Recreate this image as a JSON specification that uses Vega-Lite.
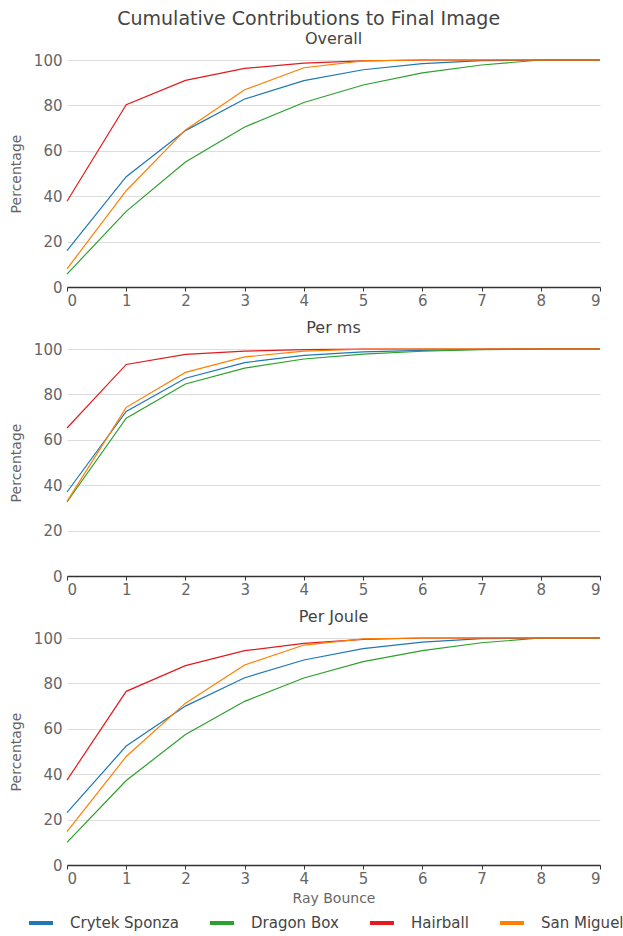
{
  "$schema": "https://vega.github.io/schema/vega-lite/v6.json",
  "padding": {"left": 9, "right": 17, "top": 10, "bottom": 0},
  "background": "white",
  "title": {"text": "Cumulative Contributions to Final Image", "fontSize": 19, "font": "DejaVu Sans", "fontWeight": "normal", "color": "#444", "anchor": "middle", "offset": 2, "dx": -8},
  "config": {
    "font": "DejaVu Sans",
    "view": {"stroke": null},
    "axis": {"labelFont": "DejaVu Sans", "titleFont": "DejaVu Sans", "labelColor": "#666", "titleColor": "#666", "labelFontSize": 15, "titleFontSize": 14, "titleFontWeight": "normal", "gridColor": "#ddd", "gridWidth": 1},
    "title": {"font": "DejaVu Sans", "fontSize": 16, "fontWeight": "normal", "color": "#444", "offset": 6},
    "concat": {"spacing": 12}
  },
  "data": {"values": [
    {"panel": "Overall", "scene": "Crytek Sponza", "bounce": 0, "pct": 16},
    {"panel": "Overall", "scene": "Crytek Sponza", "bounce": 1, "pct": 48.6},
    {"panel": "Overall", "scene": "Crytek Sponza", "bounce": 2, "pct": 68.9},
    {"panel": "Overall", "scene": "Crytek Sponza", "bounce": 3, "pct": 82.8},
    {"panel": "Overall", "scene": "Crytek Sponza", "bounce": 4, "pct": 90.9},
    {"panel": "Overall", "scene": "Crytek Sponza", "bounce": 5, "pct": 95.7},
    {"panel": "Overall", "scene": "Crytek Sponza", "bounce": 6, "pct": 98.4},
    {"panel": "Overall", "scene": "Crytek Sponza", "bounce": 7, "pct": 99.7},
    {"panel": "Overall", "scene": "Crytek Sponza", "bounce": 8, "pct": 100},
    {"panel": "Overall", "scene": "Crytek Sponza", "bounce": 9, "pct": 100},
    {"panel": "Overall", "scene": "Dragon Box", "bounce": 0, "pct": 5.7},
    {"panel": "Overall", "scene": "Dragon Box", "bounce": 1, "pct": 33.3},
    {"panel": "Overall", "scene": "Dragon Box", "bounce": 2, "pct": 55.1},
    {"panel": "Overall", "scene": "Dragon Box", "bounce": 3, "pct": 70.5},
    {"panel": "Overall", "scene": "Dragon Box", "bounce": 4, "pct": 81.3},
    {"panel": "Overall", "scene": "Dragon Box", "bounce": 5, "pct": 89},
    {"panel": "Overall", "scene": "Dragon Box", "bounce": 6, "pct": 94.3},
    {"panel": "Overall", "scene": "Dragon Box", "bounce": 7, "pct": 97.8},
    {"panel": "Overall", "scene": "Dragon Box", "bounce": 8, "pct": 100},
    {"panel": "Overall", "scene": "Dragon Box", "bounce": 9, "pct": 100},
    {"panel": "Overall", "scene": "Hairball", "bounce": 0, "pct": 37.8},
    {"panel": "Overall", "scene": "Hairball", "bounce": 1, "pct": 80.3},
    {"panel": "Overall", "scene": "Hairball", "bounce": 2, "pct": 91},
    {"panel": "Overall", "scene": "Hairball", "bounce": 3, "pct": 96.3},
    {"panel": "Overall", "scene": "Hairball", "bounce": 4, "pct": 98.6},
    {"panel": "Overall", "scene": "Hairball", "bounce": 5, "pct": 99.6},
    {"panel": "Overall", "scene": "Hairball", "bounce": 6, "pct": 100},
    {"panel": "Overall", "scene": "Hairball", "bounce": 7, "pct": 100},
    {"panel": "Overall", "scene": "Hairball", "bounce": 8, "pct": 100},
    {"panel": "Overall", "scene": "Hairball", "bounce": 9, "pct": 100},
    {"panel": "Overall", "scene": "San Miguel", "bounce": 0, "pct": 8},
    {"panel": "Overall", "scene": "San Miguel", "bounce": 1, "pct": 42.4},
    {"panel": "Overall", "scene": "San Miguel", "bounce": 2, "pct": 69.2},
    {"panel": "Overall", "scene": "San Miguel", "bounce": 3, "pct": 86.9},
    {"panel": "Overall", "scene": "San Miguel", "bounce": 4, "pct": 96.6},
    {"panel": "Overall", "scene": "San Miguel", "bounce": 5, "pct": 99.6},
    {"panel": "Overall", "scene": "San Miguel", "bounce": 6, "pct": 100},
    {"panel": "Overall", "scene": "San Miguel", "bounce": 7, "pct": 100},
    {"panel": "Overall", "scene": "San Miguel", "bounce": 8, "pct": 100},
    {"panel": "Overall", "scene": "San Miguel", "bounce": 9, "pct": 100},
    {"panel": "Per ms", "scene": "Crytek Sponza", "bounce": 0, "pct": 37},
    {"panel": "Per ms", "scene": "Crytek Sponza", "bounce": 1, "pct": 72.5},
    {"panel": "Per ms", "scene": "Crytek Sponza", "bounce": 2, "pct": 87.1},
    {"panel": "Per ms", "scene": "Crytek Sponza", "bounce": 3, "pct": 94},
    {"panel": "Per ms", "scene": "Crytek Sponza", "bounce": 4, "pct": 97.2},
    {"panel": "Per ms", "scene": "Crytek Sponza", "bounce": 5, "pct": 98.7},
    {"panel": "Per ms", "scene": "Crytek Sponza", "bounce": 6, "pct": 99.4},
    {"panel": "Per ms", "scene": "Crytek Sponza", "bounce": 7, "pct": 99.9},
    {"panel": "Per ms", "scene": "Crytek Sponza", "bounce": 8, "pct": 100},
    {"panel": "Per ms", "scene": "Crytek Sponza", "bounce": 9, "pct": 100},
    {"panel": "Per ms", "scene": "Dragon Box", "bounce": 0, "pct": 32.6},
    {"panel": "Per ms", "scene": "Dragon Box", "bounce": 1, "pct": 69.5},
    {"panel": "Per ms", "scene": "Dragon Box", "bounce": 2, "pct": 84.6},
    {"panel": "Per ms", "scene": "Dragon Box", "bounce": 3, "pct": 91.6},
    {"panel": "Per ms", "scene": "Dragon Box", "bounce": 4, "pct": 95.6},
    {"panel": "Per ms", "scene": "Dragon Box", "bounce": 5, "pct": 97.7},
    {"panel": "Per ms", "scene": "Dragon Box", "bounce": 6, "pct": 99},
    {"panel": "Per ms", "scene": "Dragon Box", "bounce": 7, "pct": 99.7},
    {"panel": "Per ms", "scene": "Dragon Box", "bounce": 8, "pct": 100},
    {"panel": "Per ms", "scene": "Dragon Box", "bounce": 9, "pct": 100},
    {"panel": "Per ms", "scene": "Hairball", "bounce": 0, "pct": 65.2},
    {"panel": "Per ms", "scene": "Hairball", "bounce": 1, "pct": 93.2},
    {"panel": "Per ms", "scene": "Hairball", "bounce": 2, "pct": 97.6},
    {"panel": "Per ms", "scene": "Hairball", "bounce": 3, "pct": 99.1},
    {"panel": "Per ms", "scene": "Hairball", "bounce": 4, "pct": 99.7},
    {"panel": "Per ms", "scene": "Hairball", "bounce": 5, "pct": 100},
    {"panel": "Per ms", "scene": "Hairball", "bounce": 6, "pct": 100},
    {"panel": "Per ms", "scene": "Hairball", "bounce": 7, "pct": 100},
    {"panel": "Per ms", "scene": "Hairball", "bounce": 8, "pct": 100},
    {"panel": "Per ms", "scene": "Hairball", "bounce": 9, "pct": 100},
    {"panel": "Per ms", "scene": "San Miguel", "bounce": 0, "pct": 32.9},
    {"panel": "Per ms", "scene": "San Miguel", "bounce": 1, "pct": 74.3},
    {"panel": "Per ms", "scene": "San Miguel", "bounce": 2, "pct": 89.7},
    {"panel": "Per ms", "scene": "San Miguel", "bounce": 3, "pct": 96.5},
    {"panel": "Per ms", "scene": "San Miguel", "bounce": 4, "pct": 99.1},
    {"panel": "Per ms", "scene": "San Miguel", "bounce": 5, "pct": 99.9},
    {"panel": "Per ms", "scene": "San Miguel", "bounce": 6, "pct": 100},
    {"panel": "Per ms", "scene": "San Miguel", "bounce": 7, "pct": 100},
    {"panel": "Per ms", "scene": "San Miguel", "bounce": 8, "pct": 100},
    {"panel": "Per ms", "scene": "San Miguel", "bounce": 9, "pct": 100},
    {"panel": "Per Joule", "scene": "Crytek Sponza", "bounce": 0, "pct": 23.1},
    {"panel": "Per Joule", "scene": "Crytek Sponza", "bounce": 1, "pct": 52.4},
    {"panel": "Per Joule", "scene": "Crytek Sponza", "bounce": 2, "pct": 70},
    {"panel": "Per Joule", "scene": "Crytek Sponza", "bounce": 3, "pct": 82.5},
    {"panel": "Per Joule", "scene": "Crytek Sponza", "bounce": 4, "pct": 90.3},
    {"panel": "Per Joule", "scene": "Crytek Sponza", "bounce": 5, "pct": 95.3},
    {"panel": "Per Joule", "scene": "Crytek Sponza", "bounce": 6, "pct": 98.2},
    {"panel": "Per Joule", "scene": "Crytek Sponza", "bounce": 7, "pct": 99.7},
    {"panel": "Per Joule", "scene": "Crytek Sponza", "bounce": 8, "pct": 100},
    {"panel": "Per Joule", "scene": "Crytek Sponza", "bounce": 9, "pct": 100},
    {"panel": "Per Joule", "scene": "Dragon Box", "bounce": 0, "pct": 10},
    {"panel": "Per Joule", "scene": "Dragon Box", "bounce": 1, "pct": 37.2},
    {"panel": "Per Joule", "scene": "Dragon Box", "bounce": 2, "pct": 57.5},
    {"panel": "Per Joule", "scene": "Dragon Box", "bounce": 3, "pct": 72.1},
    {"panel": "Per Joule", "scene": "Dragon Box", "bounce": 4, "pct": 82.4},
    {"panel": "Per Joule", "scene": "Dragon Box", "bounce": 5, "pct": 89.6},
    {"panel": "Per Joule", "scene": "Dragon Box", "bounce": 6, "pct": 94.4},
    {"panel": "Per Joule", "scene": "Dragon Box", "bounce": 7, "pct": 97.9},
    {"panel": "Per Joule", "scene": "Dragon Box", "bounce": 8, "pct": 100},
    {"panel": "Per Joule", "scene": "Dragon Box", "bounce": 9, "pct": 100},
    {"panel": "Per Joule", "scene": "Hairball", "bounce": 0, "pct": 37.4},
    {"panel": "Per Joule", "scene": "Hairball", "bounce": 1, "pct": 76.5},
    {"panel": "Per Joule", "scene": "Hairball", "bounce": 2, "pct": 87.8},
    {"panel": "Per Joule", "scene": "Hairball", "bounce": 3, "pct": 94.4},
    {"panel": "Per Joule", "scene": "Hairball", "bounce": 4, "pct": 97.6},
    {"panel": "Per Joule", "scene": "Hairball", "bounce": 5, "pct": 99.4},
    {"panel": "Per Joule", "scene": "Hairball", "bounce": 6, "pct": 100},
    {"panel": "Per Joule", "scene": "Hairball", "bounce": 7, "pct": 100},
    {"panel": "Per Joule", "scene": "Hairball", "bounce": 8, "pct": 100},
    {"panel": "Per Joule", "scene": "Hairball", "bounce": 9, "pct": 100},
    {"panel": "Per Joule", "scene": "San Miguel", "bounce": 0, "pct": 14.7},
    {"panel": "Per Joule", "scene": "San Miguel", "bounce": 1, "pct": 47.8},
    {"panel": "Per Joule", "scene": "San Miguel", "bounce": 2, "pct": 71.3},
    {"panel": "Per Joule", "scene": "San Miguel", "bounce": 3, "pct": 88.1},
    {"panel": "Per Joule", "scene": "San Miguel", "bounce": 4, "pct": 96.9},
    {"panel": "Per Joule", "scene": "San Miguel", "bounce": 5, "pct": 99.6},
    {"panel": "Per Joule", "scene": "San Miguel", "bounce": 6, "pct": 100},
    {"panel": "Per Joule", "scene": "San Miguel", "bounce": 7, "pct": 100},
    {"panel": "Per Joule", "scene": "San Miguel", "bounce": 8, "pct": 100},
    {"panel": "Per Joule", "scene": "San Miguel", "bounce": 9, "pct": 100}
  ]},
  "resolve": {"scale": {"color": "shared"}},
  "vconcat": [
    {
      "title": {"text": "Overall"},
      "width": 533, "height": 227,
      "transform": [{"filter": "datum.panel === 'Overall'"}],
      "mark": {"type": "line", "strokeWidth": 1.2},
      "encoding": {
        "x": {"field": "bounce", "type": "quantitative", "scale": {"domain": [0, 9], "nice": false}, "axis": {"title": null, "values": [0,1,2,3,4,5,6,7,8,9], "grid": false, "domainColor": "#333", "domainWidth": 1.5, "tickColor": "#333", "tickSize": 4, "labelPadding": 2, "zindex": 1}},
        "y": {"field": "pct", "type": "quantitative", "scale": {"domain": [0, 100], "nice": false}, "axis": {"title": "Percentage", "values": [0,20,40,60,80,100], "domain": false, "ticks": false, "labelPadding": 5, "titlePadding": 10}},
        "color": {"field": "scene", "type": "nominal", "scale": {"domain": ["Crytek Sponza", "Dragon Box", "Hairball", "San Miguel"], "range": ["#1f77b4", "#2ca02c", "#e41a1c", "#ff7f00"]}}
      }
    },
    {
      "title": {"text": "Per ms"},
      "width": 533, "height": 227,
      "transform": [{"filter": "datum.panel === 'Per ms'"}],
      "mark": {"type": "line", "strokeWidth": 1.2},
      "encoding": {
        "x": {"field": "bounce", "type": "quantitative", "scale": {"domain": [0, 9], "nice": false}, "axis": {"title": null, "values": [0,1,2,3,4,5,6,7,8,9], "grid": false, "domainColor": "#333", "domainWidth": 1.5, "tickColor": "#333", "tickSize": 4, "labelPadding": 2, "zindex": 1}},
        "y": {"field": "pct", "type": "quantitative", "scale": {"domain": [0, 100], "nice": false}, "axis": {"title": "Percentage", "values": [0,20,40,60,80,100], "domain": false, "ticks": false, "labelPadding": 5, "titlePadding": 10}},
        "color": {"field": "scene", "type": "nominal"}
      }
    },
    {
      "title": {"text": "Per Joule"},
      "width": 533, "height": 227,
      "transform": [{"filter": "datum.panel === 'Per Joule'"}],
      "mark": {"type": "line", "strokeWidth": 1.2},
      "encoding": {
        "x": {"field": "bounce", "type": "quantitative", "scale": {"domain": [0, 9], "nice": false}, "axis": {"title": "Ray Bounce", "values": [0,1,2,3,4,5,6,7,8,9], "grid": false, "domainColor": "#333", "domainWidth": 1.5, "tickColor": "#333", "tickSize": 4, "labelPadding": 2, "titlePadding": 5, "zindex": 1}},
        "y": {"field": "pct", "type": "quantitative", "scale": {"domain": [0, 100], "nice": false}, "axis": {"title": "Percentage", "values": [0,20,40,60,80,100], "domain": false, "ticks": false, "labelPadding": 5, "titlePadding": 10}},
        "color": {"field": "scene", "type": "nominal", "legend": {"title": null, "orient": "none", "legendX": -40, "legendY": 849, "direction": "horizontal", "columns": 4, "symbolType": "stroke", "symbolStrokeWidth": 4, "symbolSize": 576, "labelFontSize": 15, "labelColor": "#444", "labelFont": "DejaVu Sans", "columnPadding": 23, "labelOffset": 15, "labelLimit": 200}}
      }
    }
  ]
}
